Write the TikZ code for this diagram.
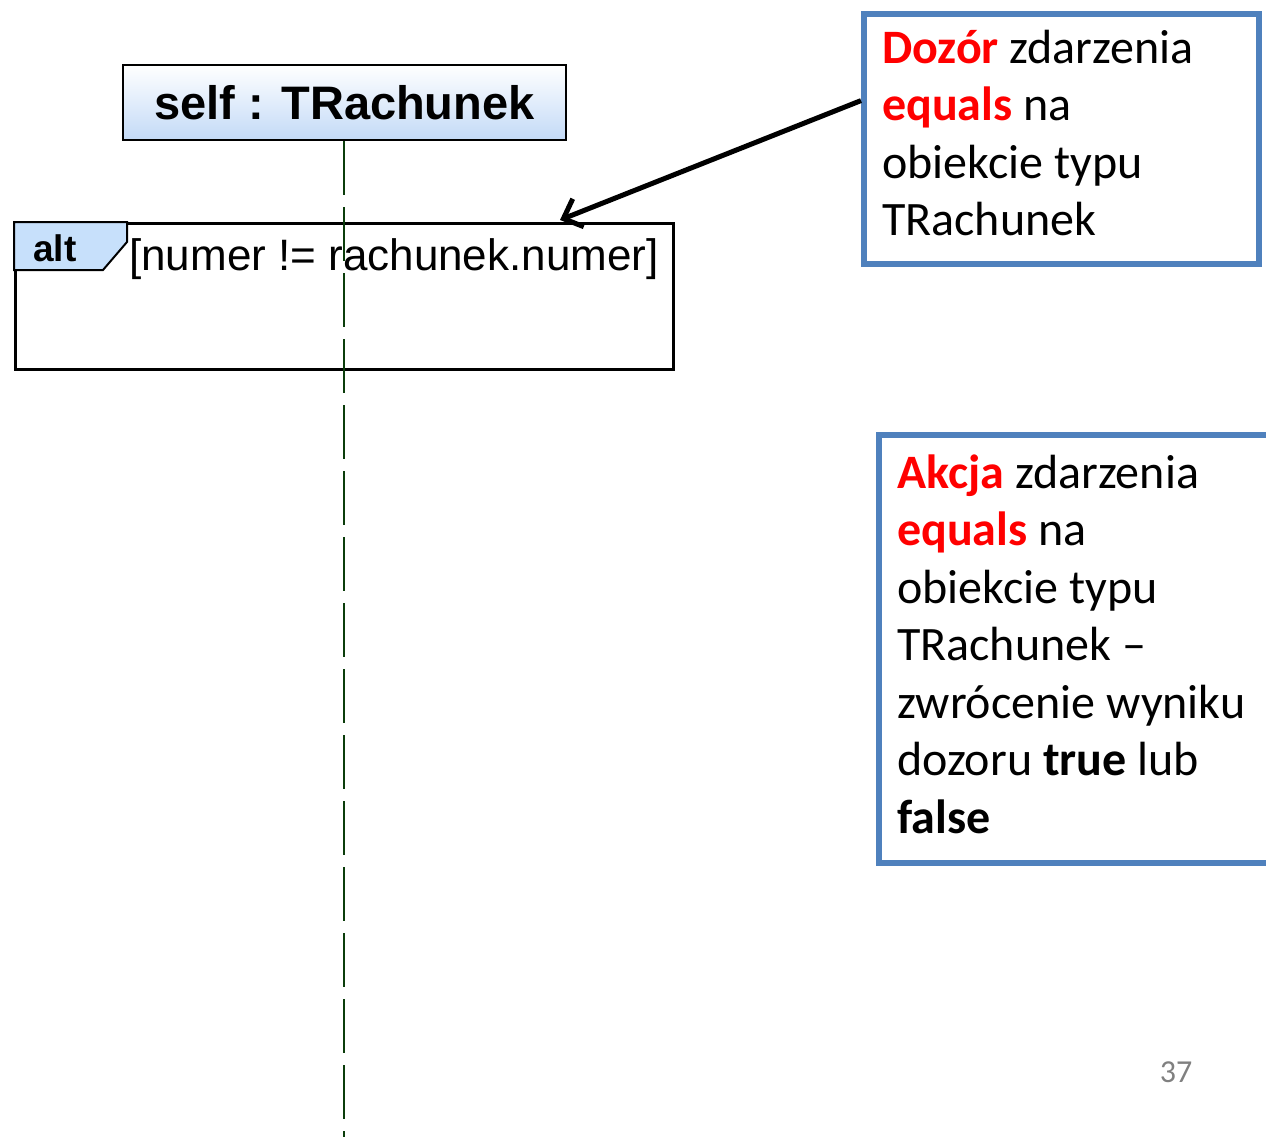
\documentclass[tikz,border=0pt]{standalone}
\usepackage{fontspec}
\setmainfont{Carlito}
\newfontfamily\umlfont{Liberation Sans}
\usetikzlibrary{calc,positioning,shapes}
\usetikzlibrary{arrows.meta}
\tikzset{>={Straight Barb[width=30pt,length=16pt]}}
\definecolor{boxblue}{HTML}{4F81BD}
\definecolor{headblue}{HTML}{C3DAF7}
\definecolor{tabblue}{HTML}{C7E0FB}
\definecolor{lifegreen}{HTML}{0B3D0B}

\begin{document}
\begin{tikzpicture}[x=1pt,y=-1pt]
          \tikzstyle{head} = [draw=black, line width=2pt, top color=white, bottom color=headblue, anchor=north west, inner sep=0pt, font=\umlfont\bfseries\fontsize{47}{56}\selectfont]
          \tikzstyle{frame} = [draw=black, line width=2.5pt, anchor=north west, inner sep=0pt]
          \tikzstyle{note} = [draw=boxblue, line width=6pt, fill=white, anchor=north west, inner sep=0pt]
          \tikzstyle{notetext} = [anchor=north west, inner sep=0pt, align=left, font=\fontsize{48}{57.5}\selectfont]
          \useasboundingbox (0,0) rectangle (1266,1137);

          \node[frame, minimum width=658pt, minimum height=146pt] (alt) at (14,222) {};
          \draw[line width=2pt, fill=tabblue] (alt.north west) -- ++(113,0) -- ++(0,20) -- ++(-24,28) -- ++(-89,0) -- cycle;
          \node[anchor=base west, inner sep=0pt, font=\umlfont\bfseries\fontsize{37}{40}\selectfont] (op) at (33,261) {alt};
          \node[anchor=base west, inner sep=0pt, font=\umlfont\fontsize{44}{50}\selectfont] (guard) at (129,270) {[numer != rachunek.numer]};

          \node[head, minimum width=443pt, minimum height=75pt] (self) at (122,64) {self : TRachunek};
          \coordinate (end) at (344,1140);
          \draw[lifegreen, line width=2.5pt, dash pattern=on 54pt off 12pt] (self.south -| end) -- (end);

          \node[note, minimum width=395pt, minimum height=250pt] (dozor) at (861,11) {};
          \node[notetext] (dozortxt) at (882,23) {\strut\textbf{\color{red}Dozór} zdarzenia\\ \textbf{\color{red}equals} na\\ obiekcie typu\\ TRachunek};

          \node[note, minimum width=400pt, minimum height=428pt] (akcja) at (876,432) {};
          \node[notetext] (akcjatxt) at (897,448) {\strut\textbf{\color{red}Akcja} zdarzenia\\ \textbf{\color{red}equals} na\\ obiekcie typu\\ TRachunek --\\ zwrócenie wyniku\\ dozoru \textbf{true} lub\\ \textbf{false}};

          \coordinate (tip) at (560,220);
          \draw[->, line width=5pt] ($(dozor.north west)!0.35!(dozor.south west)$) -- (tip);

          \node[anchor=base, inner sep=0pt, text=gray, font=\fontsize{32}{36}\selectfont] (page) at (1176,1082) {37};
        \end{tikzpicture}
\end{document}
